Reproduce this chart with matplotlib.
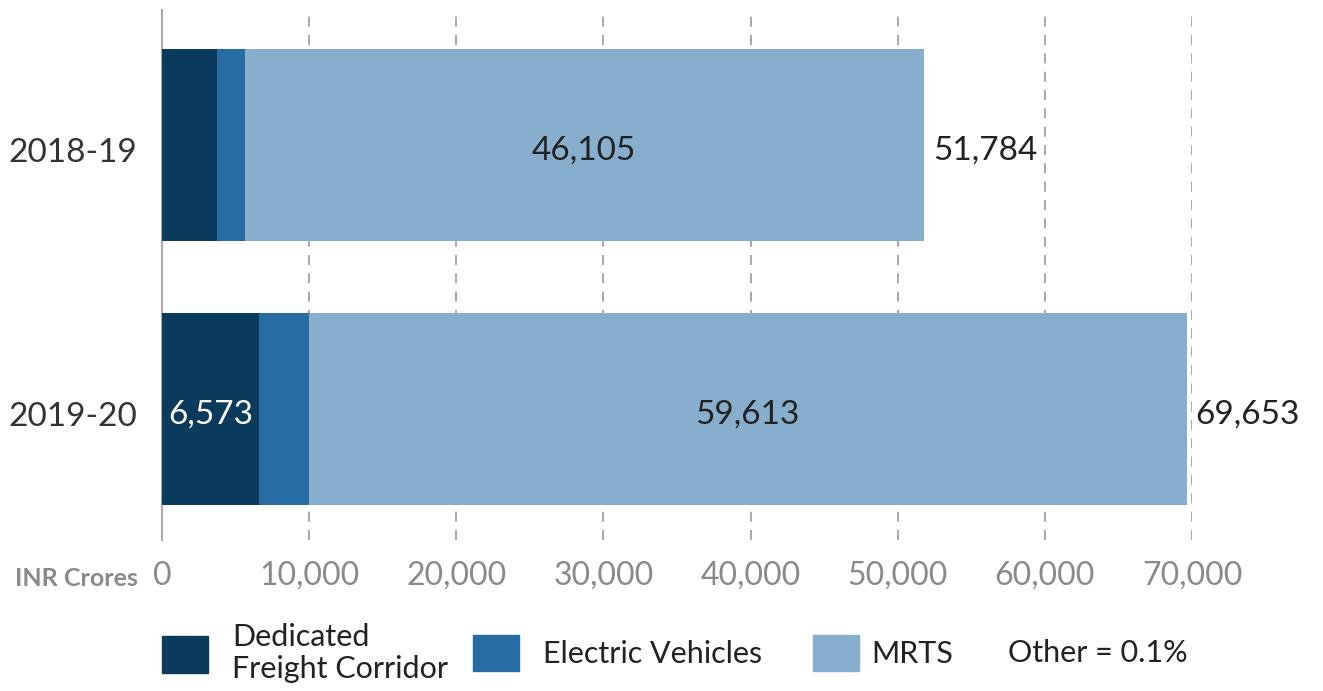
import numpy as np
import matplotlib.pyplot as plt
from matplotlib.patches import Patch

# donnees (INR Crores)
years = ['2018-19', '2019-20']
dfc = [3750, 6573]
ev = [1877, 3397]
mrts = [46105, 59613]
other = [52, 70]
ticks = [0, 10000, 20000, 30000, 40000, 50000, 60000, 70000]

c_dfc = '#0a3a5c'
c_ev = '#276da4'
c_mrts = '#87aecd'

plt.rcParams['font.family'] = ['Lato', 'DejaVu Sans']

fig = plt.figure(figsize=(13.23, 6.91), dpi=100)
ax = fig.add_axes([162/1323, 1-540/691, 1030/1323, 530/691])

y = np.arange(len(years))
h = 0.725
left = np.zeros(len(years))
for vals, col in [(dfc, c_dfc), (ev, c_ev), (mrts, c_mrts), (other, c_mrts)]:
    ax.barh(y, vals, left=left, height=h, color=col, zorder=3)
    left = left + np.array(vals)
totals = left

ax.set_xlim(0, 70000)
ax.set_ylim(1.496, -0.511)

# etiquettes
for i in range(len(years)):
    start = dfc[i] + ev[i]
    ax.text(start + mrts[i] / 2, y[i] + 0.02, f'{mrts[i]:,}', ha='center', va='center',
            fontsize=24, color='#222222', zorder=4)
    ax.text(totals[i] + 600, y[i] + 0.02, f'{int(totals[i]):,}', ha='left', va='center',
            fontsize=24, color='#222222')
ax.text(dfc[1] / 2, y[1] + 0.02, f'{dfc[1]:,}', ha='center', va='center',
        fontsize=24, color='white', zorder=4)

ax.set_yticks(y + 0.02)
ax.set_yticklabels(years, fontsize=24, color='#333333')
ax.set_xticks(ticks)
ax.set_xticklabels([f'{t:,}' for t in ticks], fontsize=23, color='#8a8a8a')
ax.tick_params(axis='y', length=0, pad=18)
ax.tick_params(axis='x', length=0, pad=15)

for t in ticks[1:]:
    ax.axvline(t, color='#999999', lw=1.2, ls=(0, (6, 5)), zorder=1)
for s in ['top', 'right', 'bottom']:
    ax.spines[s].set_visible(False)
ax.spines['left'].set_color('#aaaaaa')
ax.spines['left'].set_linewidth(1.5)

fig.text(138/1323, 1-579/691, 'INR Crores', ha='right', va='center',
         fontsize=18, fontweight='bold', color='#8a8a8a')

# legende
entries = [('Dedicated\nFreight Corridor', c_dfc, 162, 0.8),
           ('Electric Vehicles', c_ev, 473, 0.8),
           ('MRTS', c_mrts, 813, 0.4)]
for lab, col, px, pad in entries:
    leg = fig.legend(handles=[Patch(color=col, label=lab)], loc='center left',
                     bbox_to_anchor=(px/1323, 1-653/691), frameon=False, fontsize=22,
                     handlelength=1.5, handleheight=1.45, handletextpad=pad,
                     borderpad=0, borderaxespad=0, labelcolor='#222222')
    leg.get_texts()[0].set_linespacing(1.15)
fig.text(1008/1323, 1-653/691, 'Other = 0.1%', ha='left', va='center',
         fontsize=22, color='#222222')

fig.savefig('out.png', dpi=100)
